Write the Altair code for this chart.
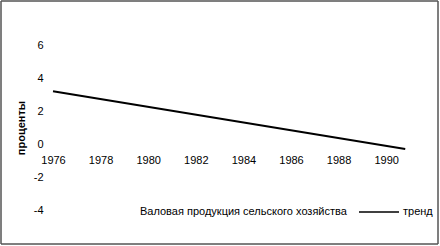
import altair as alt
import pandas as pd

# Trend of gross agricultural output growth, percent per year
trend_years = [1976, 1990.8]
trend_values = [3.2, -0.3]

year_ticks = [1976, 1978, 1980, 1982, 1984, 1986, 1988, 1990]
pct_ticks = [-4, -2, 0, 2, 4, 6]

series_names = ["Валовая продукция сельского хозяйства", "тренд"]

FONT = "Liberation Sans"
W, H = 357, 165

trend = pd.DataFrame({"год": trend_years, "проценты": trend_values, "ряд": "тренд"})

line = alt.Chart(trend).mark_line(strokeWidth=1.9, clip=False).encode(
    x=alt.X(
        "год:Q",
        scale=alt.Scale(domain=[1976, 1991], nice=False, zero=False),
        axis=alt.Axis(
            values=year_ticks, format="d", title=None, domain=False, ticks=False,
            grid=False, labelPadding=10, offset=-66, labelFlush=False,
        ),
    ),
    y=alt.Y(
        "проценты:Q",
        scale=alt.Scale(domain=[-4, 6], nice=False),
        axis=alt.Axis(
            values=pct_ticks, title="проценты", domain=False, ticks=False,
            grid=False, labelPadding=10, titlePadding=7, titleFontWeight="bold",
            labelExpr="datum.value < 0 ? '-' + abs(datum.value) : '' + datum.value",
        ),
    ),
    color=alt.Color(
        "ряд:N",
        scale=alt.Scale(domain=series_names, range=["#ffffff", "#000000"]),
        legend=alt.Legend(
            title=None, orient="none", direction="horizontal",
            legendX=42, legendY=158 - 12, symbolType="stroke", symbolSize=1600,
            symbolStrokeWidth=1.5, labelOffset=3, columnPadding=9, labelLimit=0,
            labelFontSize=11, labelFont=FONT, labelColor="#000",
        ),
    ),
)

frame = alt.Chart(trend).mark_rect(
    fill=None, stroke="#555", strokeWidth=1, clip=False
).encode(
    x=alt.value(-52), x2=alt.value(385), y=alt.value(-44), y2=alt.value(199)
)

chart = (
    alt.layer(frame, line)
    .properties(
        width=W, height=H,
        padding={"left": 53, "top": 45, "right": 30, "bottom": 36},
        autosize=alt.AutoSizeParams(type="none"),
        background="white",
    )
    .configure_view(stroke=None)
    .configure_axis(labelFont=FONT, labelFontSize=11, labelColor="#000",
                    titleFont=FONT, titleFontSize=11, titleColor="#000")
)

chart.save("out.html", embed_options={"renderer": "svg", "actions": False})
